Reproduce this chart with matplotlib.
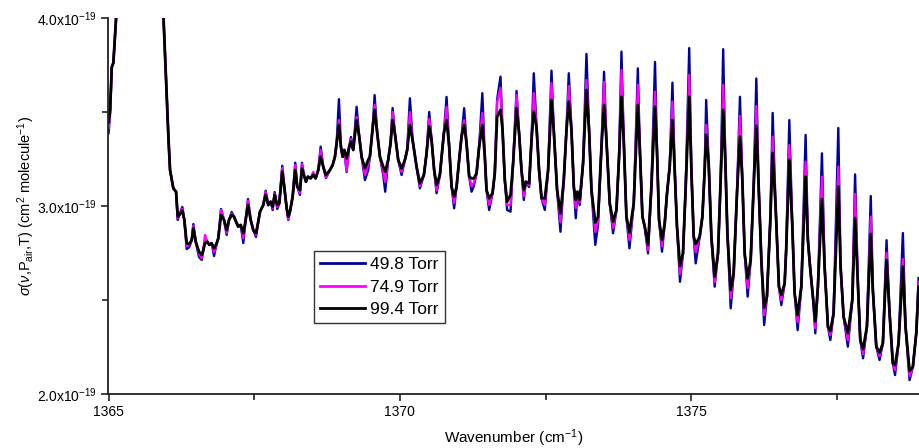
import numpy as np
import matplotlib
matplotlib.use("Agg")
import matplotlib.pyplot as plt
from matplotlib.ticker import FixedLocator

plt.rcParams['font.family'] = ['Liberation Sans', 'DejaVu Sans']
plt.rcParams['mathtext.fontset'] = 'custom'
plt.rcParams['mathtext.rm'] = 'Liberation Sans'
plt.rcParams['mathtext.it'] = 'Liberation Sans:italic'
plt.rcParams['mathtext.bf'] = 'Liberation Sans:bold'

# wavenumber (cm-1) of the digitised nodes
wavenumber = [
    1365.000, 1365.026, 1365.055, 1365.082, 1365.129, 1365.250, 1365.850, 1365.943, 1365.986, 1366.029,
    1366.055, 1366.111, 1366.158, 1366.187, 1366.214, 1366.266, 1366.300, 1366.341, 1366.386, 1366.427,
    1366.455, 1366.496, 1366.552, 1366.599, 1366.626, 1366.655, 1366.695, 1366.729, 1366.770, 1366.810,
    1366.856, 1366.883, 1366.930, 1366.981, 1367.027, 1367.067, 1367.113, 1367.153, 1367.187, 1367.226,
    1367.268, 1367.312, 1367.353, 1367.393, 1367.439, 1367.484, 1367.530, 1367.569, 1367.599, 1367.655,
    1367.696, 1367.741, 1367.782, 1367.816, 1367.851, 1367.895, 1367.930, 1367.981, 1368.015, 1368.057,
    1368.084, 1368.113, 1368.159, 1368.204, 1368.238, 1368.285, 1368.319, 1368.353, 1368.388, 1368.422,
    1368.468, 1368.513, 1368.554, 1368.599, 1368.640, 1368.684, 1368.731, 1368.799, 1368.846, 1368.885,
    1368.914, 1368.954, 1368.988, 1369.017, 1369.045, 1369.086, 1369.130, 1369.160, 1369.199, 1369.257,
    1369.302, 1369.343, 1369.400, 1369.456, 1369.485, 1369.532, 1369.566, 1369.611, 1369.657, 1369.714,
    1369.748, 1369.799, 1369.840, 1369.875, 1369.914, 1369.971, 1370.029, 1370.086, 1370.125, 1370.172,
    1370.218, 1370.286, 1370.343, 1370.412, 1370.458, 1370.503, 1370.544, 1370.588, 1370.630, 1370.686,
    1370.755, 1370.801, 1370.846, 1370.887, 1370.931, 1370.973, 1371.017, 1371.058, 1371.103, 1371.144,
    1371.189, 1371.230, 1371.269, 1371.316, 1371.360, 1371.415, 1371.458, 1371.487, 1371.532, 1371.590,
    1371.629, 1371.669, 1371.727, 1371.762, 1371.801, 1371.840, 1371.899, 1371.943, 1372.002, 1372.046,
    1372.087, 1372.127, 1372.161, 1372.218, 1372.259, 1372.298, 1372.345, 1372.389, 1372.431, 1372.487,
    1372.544, 1372.602, 1372.641, 1372.698, 1372.756, 1372.813, 1372.859, 1372.899, 1372.945, 1372.985,
    1373.019, 1373.048, 1373.087, 1373.144, 1373.202, 1373.247, 1373.288, 1373.354, 1373.401, 1373.460,
    1373.504, 1373.545, 1373.602, 1373.659, 1373.717, 1373.762, 1373.803, 1373.842, 1373.888, 1373.940,
    1374.014, 1374.084, 1374.117, 1374.163, 1374.203, 1374.259, 1374.317, 1374.379, 1374.414, 1374.448,
    1374.499, 1374.546, 1374.585, 1374.631, 1374.678, 1374.717, 1374.756, 1374.808, 1374.859, 1374.906,
    1374.966, 1375.003, 1375.043, 1375.077, 1375.146, 1375.192, 1375.231, 1375.257, 1375.300, 1375.346,
    1375.403, 1375.460, 1375.506, 1375.549, 1375.587, 1375.621, 1375.678, 1375.729, 1375.786, 1375.837,
    1375.878, 1375.918, 1375.969, 1376.021, 1376.072, 1376.118, 1376.158, 1376.204, 1376.252, 1376.300,
    1376.358, 1376.398, 1376.449, 1376.506, 1376.547, 1376.604, 1376.630, 1376.684, 1376.736, 1376.775,
    1376.827, 1376.890, 1376.964, 1377.003, 1377.045, 1377.089, 1377.130, 1377.175, 1377.244, 1377.290,
    1377.347, 1377.388, 1377.444, 1377.525, 1377.564, 1377.616, 1377.689, 1377.765, 1377.813, 1377.861,
    1377.902, 1377.950, 1378.016, 1378.082, 1378.118, 1378.177, 1378.233, 1378.290, 1378.353, 1378.405,
    1378.461, 1378.499, 1378.559, 1378.633, 1378.679, 1378.748, 1378.805, 1378.863, 1378.903,
]

# cross sections in units of 1e-19 cm2/molecule
sigma_498 = [
    3.388, 3.490, 3.739, 3.761, 4.000, 4.300, 4.300, 4.000, 3.670, 3.351,
    3.191, 3.094, 3.076, 2.926, 2.952, 2.995, 2.926, 2.771, 2.782, 2.819,
    2.904, 2.810, 2.729, 2.713, 2.766, 2.814, 2.810, 2.793, 2.802, 2.734,
    2.802, 2.828, 2.984, 2.926, 2.846, 2.926, 2.968, 2.943, 2.917, 2.890,
    2.899, 2.803, 2.926, 3.037, 2.926, 2.872, 2.835, 2.917, 2.970, 3.005,
    3.081, 3.005, 3.023, 2.979, 3.074, 2.984, 3.014, 3.214, 3.103, 2.988,
    2.926, 2.970, 3.049, 3.230, 3.103, 3.059, 3.230, 3.165, 3.129, 3.156,
    3.147, 3.170, 3.147, 3.191, 3.316, 3.209, 3.149, 3.191, 3.218, 3.262,
    3.334, 3.568, 3.315, 3.262, 3.298, 3.181, 3.315, 3.367, 3.298, 3.528,
    3.369, 3.262, 3.138, 3.191, 3.262, 3.413, 3.590, 3.387, 3.262, 3.165,
    3.076, 3.245, 3.334, 3.521, 3.387, 3.245, 3.165, 3.245, 3.298, 3.573,
    3.351, 3.209, 3.094, 3.165, 3.280, 3.500, 3.351, 3.191, 3.068, 3.165,
    3.387, 3.580, 3.315, 3.103, 2.988, 3.103, 3.245, 3.369, 3.520, 3.334,
    3.156, 3.076, 3.106, 3.174, 3.315, 3.600, 3.262, 3.085, 2.979, 3.068,
    3.174, 3.566, 3.688, 3.404, 3.138, 2.979, 2.970, 3.227, 3.612, 3.387,
    3.191, 3.032, 3.129, 3.101, 3.351, 3.706, 3.422, 3.191, 3.041, 2.979,
    3.191, 3.720, 3.404, 3.085, 2.863, 3.138, 3.404, 3.706, 3.404, 3.103,
    2.935, 3.076, 3.005, 3.227, 3.809, 3.404, 3.085, 2.793, 2.899, 3.315,
    3.714, 3.351, 3.014, 2.855, 2.979, 3.262, 3.821, 3.351, 2.943, 2.775,
    3.014, 3.732, 3.315, 2.943, 2.890, 2.748, 3.103, 3.766, 3.280, 2.926,
    2.757, 2.908, 3.068, 3.209, 3.656, 3.191, 2.890, 2.597, 2.748, 3.103,
    3.840, 3.191, 2.837, 2.695, 2.837, 2.943, 3.191, 3.564, 3.227, 2.837,
    2.571, 2.748, 3.138, 3.834, 3.227, 2.855, 2.456, 2.642, 3.068, 3.581,
    3.138, 2.748, 2.518, 2.713, 3.103, 3.678, 3.103, 2.713, 2.367, 2.518,
    2.926, 3.495, 2.996, 2.571, 2.473, 2.589, 2.766, 3.457, 2.890, 2.536,
    2.340, 2.571, 3.378, 2.819, 2.660, 2.518, 2.323, 2.571, 3.280, 2.677,
    2.358, 2.287, 2.429, 3.415, 2.677, 2.411, 2.252, 2.500, 3.168, 2.589,
    2.287, 2.190, 2.358, 3.053, 2.553, 2.252, 2.181, 2.270, 2.818, 2.429,
    2.163, 2.101, 2.270, 2.856, 2.358, 2.074, 2.145, 2.323, 2.617,
]

sigma_749 = [
    3.415, 3.500, 3.739, 3.761, 4.000, 4.300, 4.300, 4.000, 3.670, 3.351,
    3.191, 3.094, 3.076, 2.936, 2.952, 2.984, 2.926, 2.787, 2.793, 2.819,
    2.894, 2.810, 2.745, 2.723, 2.766, 2.846, 2.810, 2.793, 2.802, 2.755,
    2.802, 2.828, 2.979, 2.926, 2.856, 2.926, 2.960, 2.943, 2.917, 2.890,
    2.899, 2.830, 2.926, 3.027, 2.926, 2.872, 2.846, 2.917, 2.970, 3.005,
    3.074, 3.005, 3.023, 2.988, 3.066, 2.995, 3.014, 3.202, 3.103, 2.988,
    2.931, 2.970, 3.049, 3.218, 3.103, 3.069, 3.223, 3.165, 3.129, 3.156,
    3.147, 3.181, 3.147, 3.191, 3.298, 3.209, 3.154, 3.191, 3.218, 3.262,
    3.334, 3.457, 3.315, 3.262, 3.298, 3.186, 3.315, 3.356, 3.298, 3.473,
    3.369, 3.262, 3.165, 3.220, 3.262, 3.413, 3.537, 3.387, 3.262, 3.181,
    3.128, 3.245, 3.334, 3.500, 3.387, 3.245, 3.181, 3.245, 3.298, 3.500,
    3.351, 3.209, 3.106, 3.165, 3.280, 3.463, 3.351, 3.191, 3.085, 3.165,
    3.387, 3.527, 3.315, 3.103, 3.016, 3.103, 3.245, 3.369, 3.457, 3.334,
    3.156, 3.106, 3.122, 3.174, 3.315, 3.495, 3.262, 3.085, 3.005, 3.068,
    3.174, 3.553, 3.628, 3.404, 3.138, 3.005, 3.005, 3.227, 3.590, 3.387,
    3.191, 3.053, 3.129, 3.110, 3.351, 3.601, 3.422, 3.191, 3.041, 3.005,
    3.191, 3.654, 3.404, 3.085, 2.915, 3.138, 3.404, 3.638, 3.404, 3.103,
    2.989, 3.076, 3.020, 3.227, 3.670, 3.404, 3.085, 2.862, 2.920, 3.315,
    3.660, 3.351, 3.014, 2.883, 2.979, 3.262, 3.723, 3.351, 2.943, 2.819,
    3.014, 3.644, 3.315, 2.943, 2.890, 2.766, 3.103, 3.608, 3.280, 2.926,
    2.787, 2.908, 3.068, 3.209, 3.555, 3.191, 2.890, 2.638, 2.748, 3.103,
    3.697, 3.191, 2.837, 2.755, 2.837, 2.943, 3.191, 3.431, 3.227, 2.837,
    2.596, 2.748, 3.138, 3.644, 3.227, 2.855, 2.511, 2.642, 3.068, 3.479,
    3.138, 2.748, 2.564, 2.713, 3.103, 3.532, 3.103, 2.713, 2.420, 2.518,
    2.926, 3.369, 2.996, 2.571, 2.500, 2.589, 2.766, 3.324, 2.890, 2.536,
    2.383, 2.571, 3.236, 2.819, 2.660, 2.518, 2.351, 2.571, 3.156, 2.677,
    2.358, 2.314, 2.429, 3.209, 2.677, 2.411, 2.287, 2.500, 3.064, 2.589,
    2.287, 2.213, 2.358, 2.943, 2.553, 2.252, 2.202, 2.270, 2.750, 2.429,
    2.163, 2.128, 2.270, 2.718, 2.358, 2.096, 2.145, 2.323, 2.596,
]

sigma_994 = [
    3.447, 3.511, 3.739, 3.761, 4.000, 4.300, 4.300, 4.000, 3.670, 3.351,
    3.191, 3.094, 3.076, 2.943, 2.952, 2.975, 2.926, 2.802, 2.798, 2.819,
    2.881, 2.810, 2.757, 2.739, 2.766, 2.802, 2.810, 2.793, 2.802, 2.775,
    2.802, 2.828, 2.952, 2.926, 2.872, 2.926, 2.952, 2.943, 2.917, 2.890,
    2.899, 2.855, 2.926, 3.005, 2.926, 2.872, 2.855, 2.917, 2.970, 3.005,
    3.059, 3.005, 3.023, 2.996, 3.059, 3.005, 3.014, 3.182, 3.103, 2.988,
    2.943, 2.970, 3.049, 3.191, 3.103, 3.085, 3.200, 3.165, 3.129, 3.156,
    3.147, 3.165, 3.147, 3.191, 3.262, 3.209, 3.165, 3.191, 3.218, 3.262,
    3.334, 3.431, 3.315, 3.262, 3.298, 3.254, 3.315, 3.342, 3.298, 3.457,
    3.369, 3.262, 3.200, 3.245, 3.262, 3.413, 3.511, 3.387, 3.262, 3.209,
    3.182, 3.245, 3.334, 3.457, 3.387, 3.245, 3.200, 3.245, 3.298, 3.431,
    3.351, 3.209, 3.121, 3.165, 3.280, 3.422, 3.351, 3.191, 3.112, 3.165,
    3.387, 3.457, 3.315, 3.103, 3.049, 3.103, 3.245, 3.369, 3.431, 3.334,
    3.156, 3.147, 3.147, 3.174, 3.315, 3.431, 3.262, 3.085, 3.041, 3.068,
    3.174, 3.475, 3.511, 3.404, 3.138, 3.023, 3.059, 3.227, 3.520, 3.387,
    3.191, 3.085, 3.129, 3.121, 3.351, 3.502, 3.422, 3.191, 3.041, 3.041,
    3.191, 3.564, 3.404, 3.085, 2.961, 3.138, 3.404, 3.555, 3.404, 3.103,
    3.032, 3.076, 3.032, 3.227, 3.617, 3.404, 3.085, 2.912, 2.943, 3.315,
    3.537, 3.351, 3.014, 2.917, 2.979, 3.262, 3.581, 3.351, 2.943, 2.859,
    3.014, 3.537, 3.315, 2.943, 2.890, 2.793, 3.103, 3.528, 3.280, 2.926,
    2.819, 2.908, 3.068, 3.209, 3.457, 3.191, 2.890, 2.681, 2.748, 3.103,
    3.581, 3.191, 2.837, 2.798, 2.837, 2.943, 3.191, 3.378, 3.227, 2.837,
    2.624, 2.748, 3.138, 3.511, 3.227, 2.855, 2.553, 2.642, 3.068, 3.370,
    3.138, 2.748, 2.615, 2.713, 3.103, 3.426, 3.103, 2.713, 2.460, 2.518,
    2.926, 3.282, 2.996, 2.571, 2.527, 2.589, 2.766, 3.247, 2.890, 2.536,
    2.420, 2.571, 3.157, 2.819, 2.660, 2.518, 2.386, 2.571, 3.037, 2.677,
    2.358, 2.335, 2.429, 3.103, 2.677, 2.411, 2.324, 2.500, 2.936, 2.589,
    2.287, 2.239, 2.358, 2.851, 2.553, 2.252, 2.221, 2.270, 2.713, 2.429,
    2.163, 2.154, 2.270, 2.677, 2.358, 2.122, 2.145, 2.323, 2.571,
]

series_labels = ['49.8 Torr', '74.9 Torr', '99.4 Torr']
series_colors = ['#0000a0', '#ff00ff', '#000000']
series_widths = [1.7, 1.7, 2.0]
ytick_values = [2.0e-19, 3.0e-19, 4.0e-19]
ytick_labels = ['2.0x10$^{-19}$', '3.0x10$^{-19}$', '4.0x10$^{-19}$']
yminor_values = [2.5e-19, 3.5e-19]
xtick_values = [1365, 1370, 1375]
xminor_values = [1367.5, 1372.5, 1377.5]

unit = 1e-19

fig = plt.figure(figsize=(9.19, 4.48), dpi=100)
ax = fig.add_axes([108 / 919, 54 / 448, 811 / 919, 376 / 448])

series = [sigma_498, sigma_749, sigma_994]
for ys, lab, col, lw in zip(series, series_labels, series_colors, series_widths):
    ax.plot(wavenumber, np.array(ys) * unit, color=col, lw=lw, label=lab,
            solid_joinstyle='round')

ax.set_xlim(1364.99, 1378.91)
ax.set_ylim(2e-19, 4e-19)

ax.spines['top'].set_visible(False)
ax.spines['right'].set_visible(False)
for s in ['left', 'bottom']:
    ax.spines[s].set_linewidth(1.3)
    ax.spines[s].set_color('#222222')

ax.xaxis.set_major_locator(FixedLocator(xtick_values))
ax.xaxis.set_minor_locator(FixedLocator(xminor_values))
ax.set_xticklabels([str(v) for v in xtick_values])
ax.yaxis.set_major_locator(FixedLocator(ytick_values))
ax.yaxis.set_minor_locator(FixedLocator(yminor_values))
ax.set_yticklabels(ytick_labels)
ax.tick_params(which='major', direction='out', length=5, width=1.2,
               color='#222222', labelsize=10, pad=3)
ax.tick_params(which='minor', direction='out', length=4, width=1.2,
               color='#222222')

ax.set_xlabel('Wavenumber (cm$^{-1}$)', fontsize=11, labelpad=6)
ax.set_ylabel(r'$\sigma$($\nu$,P$_{\mathrm{air}}$,T) (cm$^{2}$ molecule$^{-1}$)',
              fontsize=10.5)
ax.yaxis.set_label_coords(-0.088, 0.5)

leg = ax.legend(loc='upper left', bbox_to_anchor=(0.254, 0.38), fontsize=12.5,
                frameon=True, fancybox=False, handlelength=2.6,
                handletextpad=0.3, labelspacing=0.42, borderpad=0.35,
                borderaxespad=0)
leg.get_frame().set_edgecolor('black')
leg.get_frame().set_linewidth(1.0)
for line in leg.get_lines():
    line.set_linewidth(2.0)

fig.savefig('out.png', dpi=100)
